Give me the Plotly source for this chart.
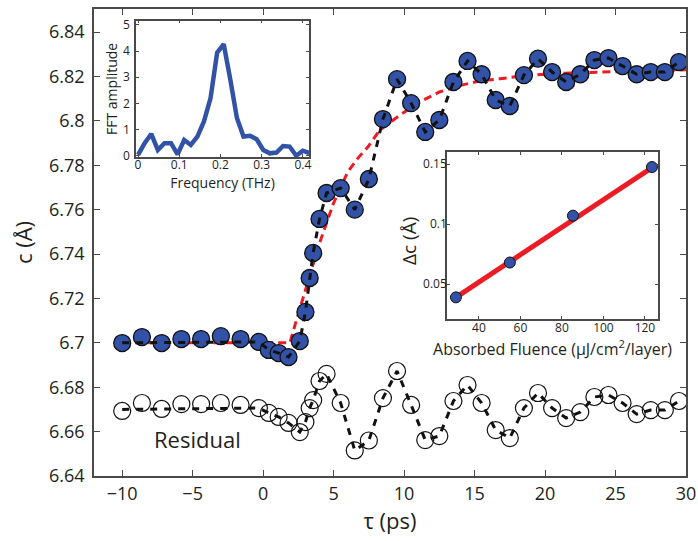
import plotly.graph_objects as go

# ---------------- main data ----------------
tau = [-10, -8.6, -7.2, -5.8, -4.4, -3.0, -1.6, -0.3, 0.4, 1.1, 1.8, 2.6, 3.0, 3.3, 3.55, 4.0, 4.5,
       5.5, 6.5, 7.5, 8.5, 9.5, 10.5, 11.5, 12.5, 13.5, 14.5, 15.5, 16.5, 17.5, 18.5, 19.5, 20.5,
       21.5, 22.5, 23.5, 24.5, 25.5, 26.5, 27.5, 28.5, 29.5]
c_data = [6.6999, 6.7026, 6.6999, 6.7017, 6.7017, 6.7030, 6.7017, 6.7004,
          6.6968, 6.6954, 6.6936, 6.7008, 6.7139, 6.7292, 6.7405, 6.7558, 6.7675,
          6.7697, 6.7600, 6.7738, 6.8008, 6.8188, 6.8080, 6.7950, 6.8004, 6.8175, 6.8270,
          6.8210, 6.8094, 6.8067, 6.8206, 6.8280, 6.8220, 6.8175, 6.8210, 6.8274, 6.8283,
          6.8247, 6.8210, 6.8220, 6.8220, 6.8265]
residual = [6.6693, 6.6729, 6.6702, 6.6724, 6.6724, 6.6729, 6.6720, 6.6706,
            6.6684, 6.6666, 6.6639, 6.6598, 6.6643, 6.6706, 6.6742, 6.6828, 6.6860,
            6.6729, 6.6515, 6.6560, 6.6751, 6.6873, 6.6720, 6.6562, 6.6580, 6.6738, 6.6810,
            6.6729, 6.6607, 6.6571, 6.6706, 6.6774, 6.6706, 6.6661, 6.6688, 6.6756, 6.6765,
            6.6729, 6.6679, 6.6697, 6.6697, 6.6738]

# exponential-rise fit (red dashed)
fit_tau = [-10, 1.9, 2.1, 2.5, 2.85, 3.2, 3.55, 3.9, 4.25, 4.6, 5.0, 5.5, 6.0, 6.7, 7.4, 8.3,
           9.7, 11.1, 12.5, 14.0, 15.4, 16.8, 18.9, 21.3, 24.8, 30.0]
fit_c = [6.700, 6.700, 6.7045, 6.713, 6.7215, 6.729, 6.736, 6.743, 6.7495, 6.756, 6.763, 6.770,
         6.777, 6.783, 6.788, 6.796, 6.8026, 6.8085, 6.813, 6.816, 6.818, 6.819, 6.8206,
         6.8215, 6.822, 6.823]

# black dashed model: flat baseline before t0, then through the data
baseline_tau = [-10]
baseline_c = [6.700]
baseline_r = [6.670]
model_tau = baseline_tau + tau[7:]
model_c = baseline_c + c_data[7:]
model_r = baseline_r + residual[7:]

x_ticks = [-10, -5, 0, 5, 10, 15, 20, 25, 30]
y_ticks = [6.64, 6.66, 6.68, 6.70, 6.72, 6.74, 6.76, 6.78, 6.80, 6.82, 6.84]
y_tick_text = ["6.64", "6.66", "6.68", "6.7", "6.72", "6.74", "6.76", "6.78", "6.8", "6.82", "6.84"]

# ---------------- FFT inset ----------------
freq = [0, 0.016, 0.032, 0.048, 0.064, 0.080, 0.096, 0.112, 0.128, 0.144, 0.160, 0.176, 0.192,
        0.208, 0.224, 0.240, 0.256, 0.272, 0.288, 0.304, 0.320, 0.336, 0.352, 0.368, 0.384,
        0.400, 0.416]
fft_amp = [0.03, 0.48, 0.83, 0.22, 0.48, 0.48, 0.05, 0.60, 0.41, 0.73, 1.31, 2.20, 3.94, 4.26,
           2.91, 1.44, 0.73, 0.76, 0.63, 0.22, 0.09, 0.12, 0.37, 0.35, 0.00, 0.19, 0.10]
fft_xticks = [0, 0.1, 0.2, 0.3, 0.4]
fft_yticks = [0, 1, 2, 3, 4, 5]

# ---------------- fluence inset ----------------
fluence = [28.9, 54.9, 85.3, 123.4]
delta_c = [0.039, 0.068, 0.107, 0.1475]
fluence_fit_x = [28.9, 123.4]
fluence_fit_y = [0.039, 0.147]
flu_xticks = [40, 60, 80, 100, 120]
flu_yticks = [0.05, 0.1, 0.15]

BLUE = "#3152A6"
RED = "#EC1C24"
AX = "#4a4a4a"
TXT = "#231F20"
FONT = "Open Sans"

fig = go.Figure()

# main
fig.add_trace(go.Scatter(x=fit_tau, y=fit_c, mode="lines",
                         line=dict(color=RED, width=3, dash="8px,5px"), xaxis="x", yaxis="y"))
fig.add_trace(go.Scatter(x=tau, y=c_data, mode="markers",
                         marker=dict(size=17, color=BLUE, line=dict(color="#111", width=1.3)),
                         xaxis="x", yaxis="y"))
fig.add_trace(go.Scatter(x=model_tau, y=model_c, mode="lines",
                         line=dict(color="#111", width=3, dash="7px,7px"), xaxis="x", yaxis="y"))
fig.add_trace(go.Scatter(x=tau, y=residual, mode="markers",
                         marker=dict(size=17, color="rgba(0,0,0,0)", line=dict(color="#111", width=1.2)),
                         xaxis="x", yaxis="y"))
fig.add_trace(go.Scatter(x=model_tau, y=model_r, mode="lines",
                         line=dict(color="#111", width=3, dash="7px,7px"), xaxis="x", yaxis="y"))

# FFT inset
fig.add_trace(go.Scatter(x=freq, y=fft_amp, mode="lines",
                         line=dict(color=BLUE, width=4.5), xaxis="x2", yaxis="y2"))

# fluence inset
fig.add_trace(go.Scatter(x=fluence_fit_x, y=fluence_fit_y, mode="lines",
                         line=dict(color=RED, width=5), xaxis="x3", yaxis="y3"))
fig.add_trace(go.Scatter(x=fluence, y=delta_c, mode="markers",
                         marker=dict(size=11, color=BLUE, line=dict(color="#111", width=1)),
                         xaxis="x3", yaxis="y3"))

common = dict(showline=True, linecolor=AX, linewidth=1.5, mirror="ticks", ticks="inside",
              tickcolor=AX, showgrid=False, zeroline=False, automargin=False)

W, H = 698, 541
L, R, T, B = 94, 12, 9, 65
pw, ph = W - L - R, H - T - B


def dx(px):
    return (px - L) / pw


def dy(py):
    return (H - B - py) / ph


fig.update_layout(
    width=W, height=H, autosize=False,
    margin=dict(l=L, r=R, t=T, b=B, pad=0, autoexpand=False),
    paper_bgcolor="white", plot_bgcolor="white",
    showlegend=False,
    font=dict(family=FONT, color=TXT),
    xaxis=dict(domain=[0, 1], range=[-12, 30], tickvals=x_ticks, ticklen=6, tickwidth=1.2,
               tickfont=dict(size=18), ticklabelstandoff=1,
               title=dict(text="τ (ps)", font=dict(size=22), standoff=6), **common),
    yaxis=dict(domain=[0, 1], range=[6.64, 6.8504], tickvals=y_ticks, ticktext=y_tick_text,
               ticklen=6, tickwidth=1.2, tickfont=dict(size=18), ticklabelstandoff=4,
               title=dict(text="c (Å)", font=dict(size=22), standoff=10), **common),
    xaxis2=dict(domain=[dx(136), dx(309)], anchor="y2", range=[-0.005, 0.415], tickvals=fft_xticks,
                ticklen=3, tickwidth=1, tickfont=dict(size=12), ticklabelstandoff=-4,
                title=dict(text="Frequency (THz)", font=dict(size=14), standoff=0), **common),
    yaxis2=dict(domain=[dy(157), dy(20.7)], anchor="x2", range=[-0.05, 5.16], tickvals=fft_yticks,
                ticklen=3, tickwidth=1, tickfont=dict(size=12), ticklabelstandoff=2,
                title=dict(text="FFT amplitude", font=dict(size=14), standoff=2), **common),
    xaxis3=dict(domain=[dx(447), dx(658)], anchor="y3", range=[24.6, 126.3], tickvals=flu_xticks,
                ticklen=3, tickwidth=1, tickfont=dict(size=12), ticklabelstandoff=-3,
                title=dict(text="Absorbed Fluence (μJ/cm<sup>2</sup>/layer)", font=dict(size=16),
                           standoff=0), **common),
    yaxis3=dict(domain=[dy(319), dy(152)], anchor="x3", range=[0.021, 0.16], tickvals=flu_yticks,
                ticktext=["0.05", "0.1", "0.15"],
                ticklen=3, tickwidth=1, tickfont=dict(size=12), ticklabelstandoff=-4, **common),
    annotations=[
        dict(text="Residual", x=-4.66, y=6.6567, xref="x", yref="y", showarrow=False,
             font=dict(size=22, color=TXT)),
        dict(text="Δc (Å)", x=dx(409), y=dy(241), xref="paper", yref="paper", showarrow=False,
             textangle=-90, xanchor="center", yanchor="middle", font=dict(size=19, color=TXT)),
    ],
)

fig.write_html("out.html", config={"displayModeBar": False},
               post_script="document.body.style.margin='0';")
